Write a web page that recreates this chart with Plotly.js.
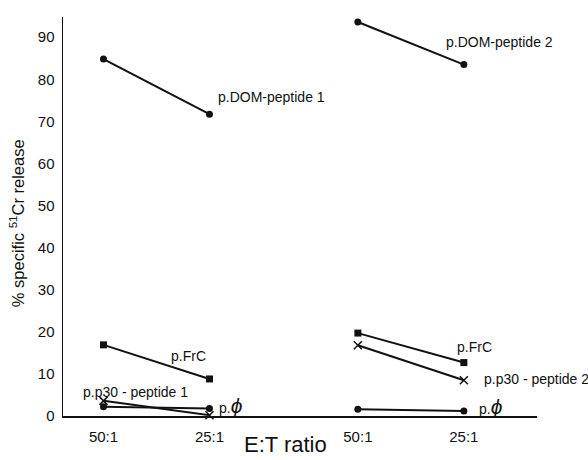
<!DOCTYPE html>
<html>
<head>
<meta charset="utf-8">
<script src="https://cdn.plot.ly/plotly-3.0.1.min.js"></script>
<style>html,body{margin:0;padding:0;background:#fff;}#chart{width:588px;height:460px;}</style>
</head>
<body>
<div id="chart"></div>
<script>
// E:T ratio tick labels (one pair per peptide group)
const ratios = ['50:1', '25:1'];
// Group 1 (left)
const domPeptide1 = [84.8, 71.7];
const frc1 = [16.9, 8.8];
const p30Peptide1 = [3.6, 0.2];
const phi1 = [2.2, 1.8];
// Group 2 (right)
const domPeptide2 = [93.6, 83.5];
const frc2 = [19.7, 12.7];
const p30Peptide2 = [16.8, 8.5];
const phi2 = [1.6, 1.2];

const groupOffset = 2.4;
function xg(group) { return ratios.map((r, i) => 1 + i + group * groupOffset); }

const lineStyle = {color: '#111', width: 2};
function tr(y, group, symbol, size, name) {
  const m = {symbol: symbol, size: size, color: '#111'};
  if (symbol.indexOf('thin') >= 0) m.line = {color: '#111', width: 1.5};
  return {x: xg(group), y: y, type: 'scatter', mode: 'lines+markers', name: name,
          line: lineStyle, marker: m, cliponaxis: false, showlegend: false};
}

const data = [
  tr(domPeptide1, 0, 'circle', 7, 'p.DOM-peptide 1'),
  tr(frc1, 0, 'square', 7, 'p.FrC'),
  tr(p30Peptide1, 0, 'x-thin-open', 8, 'p.p30 - peptide 1'),
  tr(phi1, 0, 'circle', 7, 'p.phi'),
  tr(domPeptide2, 1, 'circle', 7, 'p.DOM-peptide 2'),
  tr(frc2, 1, 'square', 7, 'p.FrC'),
  tr(p30Peptide2, 1, 'x-thin-open', 8, 'p.p30 - peptide 2'),
  tr(phi2, 1, 'circle', 7, 'p.phi')
];

const phiText = 'p.<span style="font-size:21px"><i>ϕ</i></span>';
function ann(text, x, y) {
  return {text: text, x: x, y: y, xref: 'x', yref: 'y', xanchor: 'left', yanchor: 'middle',
          showarrow: false, font: {size: 14, color: '#111'}};
}

const layout = {
  width: 588, height: 460,
  margin: {l: 63, r: 51, t: 17, b: 44},
  paper_bgcolor: '#fff', plot_bgcolor: '#fff',
  font: {family: '"Liberation Sans", Arial, sans-serif', color: '#111'},
  xaxis: {
    range: [0.618, 5.09], showgrid: false, zeroline: false,
    showline: true, linecolor: '#111', linewidth: 1.5,
    tickvals: xg(0).concat(xg(1)), ticktext: ratios.concat(ratios),
    ticks: '', ticklabelstandoff: 6, tickfont: {size: 15, color: '#111'}
  },
  yaxis: {
    range: [0, 94.8], showgrid: false, zeroline: false,
    showline: true, linecolor: '#111', linewidth: 1.5,
    tickvals: [0, 10, 20, 30, 40, 50, 60, 70, 80, 90],
    ticks: '', ticklabelstandoff: 4, tickfont: {size: 15, color: '#111'}
  },
  annotations: [
    {text: 'E:T ratio', xref: 'paper', yref: 'paper', x: 0.469, y: -0.072, xanchor: 'center', yanchor: 'middle',
     showarrow: false, font: {size: 22, color: '#111'}},
    {text: '% specific <sup>51</sup>Cr release', xref: 'paper', yref: 'paper', x: -0.098, y: 0.482,
     xanchor: 'center', yanchor: 'middle', textangle: -90,
     showarrow: false, font: {size: 16.5, color: '#111'}},
    ann('p.DOM-peptide 1', 2.061, 75.7),
    ann('p.DOM-peptide 2', 4.212, 88.9),
    ann('p.FrC', 1.618, 14.3),
    ann('p.p30 - peptide 1', 0.785, 5.7),
    ann(phiText, 2.071, 2.6),
    ann('p.FrC', 4.316, 16.3),
    ann('p.p30 - peptide 2', 4.568, 8.9),
    ann(phiText, 4.523, 2.2)
  ]
};

Plotly.newPlot('chart', data, layout, {displayModeBar: false, staticPlot: true});
</script>
</body>
</html>
